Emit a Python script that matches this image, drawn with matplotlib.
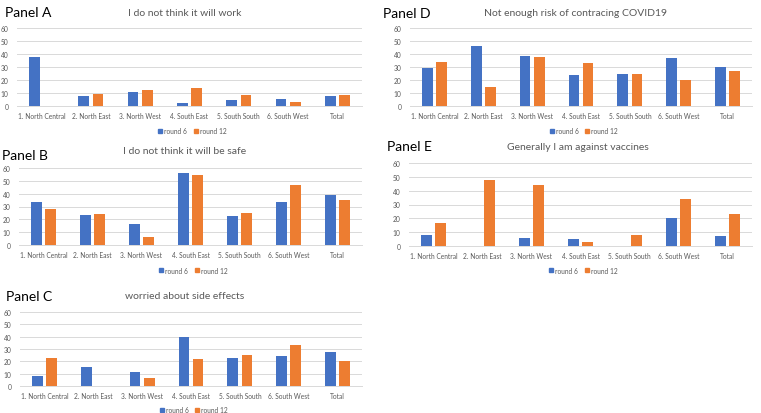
import matplotlib
matplotlib.use("Agg")
import matplotlib.pyplot as plt
import numpy as np
from matplotlib.patches import Patch

plt.rcParams['font.family'] = ['Lato', 'DejaVu Sans']

categories = ["1. North Central", "2. North East", "3. North West", "4. South East",
              "5. South South", "6. South West", "Total"]
series_names = ["round 6", "round 12"]

a_round6 = [37.4, 7.7, 11.0, 2.0, 4.9, 5.6, 7.4]
a_round12 = [0, 9.5, 12.6, 13.6, 8.2, 3.3, 8.2]
b_round6 = [33.5, 23.2, 16.5, 56.2, 22.4, 33.5, 39.2]
b_round12 = [27.8, 24.2, 6.2, 54.4, 25.0, 46.9, 35.0]
c_round6 = [8.2, 15.3, 11.2, 40.0, 22.6, 24.0, 27.5]
c_round12 = [22.3, 0, 6.3, 21.8, 24.8, 33.2, 20.2]
d_round6 = [29.5, 46.0, 38.7, 23.8, 24.9, 37.2, 30.0]
d_round12 = [33.6, 14.9, 37.7, 32.8, 24.9, 20.3, 26.9]
e_round6 = [8.2, 0, 5.6, 5.1, 0, 20.6, 7.5]
e_round12 = [16.7, 47.7, 44.0, 2.7, 8.2, 33.7, 22.8]

yticks = [0, 10, 20, 30, 40, 50, 60]

BLUE = "#4472C4"
ORANGE = "#ED7D31"
GRID = "#D9D9D9"
TXT = "#595959"

W, H = 761, 414
fig = plt.figure(figsize=(W / 100, H / 100), dpi=100)

def px_axes(left, top_y, right, bottom_y):
    return fig.add_axes([left / W, 1 - bottom_y / H, (right - left) / W, (bottom_y - top_y) / H])

panels = [
    # label, title, r6, r12, left, top(60), right, bottom(0), label_xy, title_xy, legend_y
    ("Panel A", "I do not think it will work", a_round6, a_round12, 17, 29, 362, 107, (5, 13), (185, 14), 132),
    ("Panel B", "I do not think it will be safe", b_round6, b_round12, 19, 169, 362, 246, (2, 156), (185, 152), 271),
    ("Panel C", "worried about side effects", c_round6, c_round12, 20, 313, 362, 387, (6, 297), (185, 297), 411),
    ("Panel D", "Not enough risk of contracing COVID19", d_round6, d_round12, 410, 29, 752, 107, (383, 14), (575, 13), 132),
    ("Panel E", "Generally I am against vaccines", e_round6, e_round12, 409, 164, 752, 247, (387, 147), (578, 147), 271),
]

x = np.arange(len(categories))
bw = 0.22
off = 0.145

for label, title, r6, r12, l, t, r, b, lab_xy, tit_xy, leg_y in panels:
    ax = px_axes(l, t, r, b)
    ax.bar(x - off, r6, width=bw, color=BLUE, zorder=3)
    ax.bar(x + off, r12, width=bw, color=ORANGE, zorder=3)
    ax.set_xlim(-0.5, len(categories) - 0.5)
    ax.set_ylim(0, 60)
    ax.set_yticks(yticks)
    ax.set_xticks(x)
    ax.set_xticklabels(categories)
    ax.tick_params(axis='both', length=0, labelsize=4.8, colors=TXT, pad=4)
    ax.tick_params(axis='y', pad=6)
    ax.grid(axis='y', color=GRID, linewidth=0.7, zorder=0)
    for s in ['left', 'right', 'top']:
        ax.spines[s].set_visible(False)
    ax.spines['bottom'].set_color(GRID)
    ax.spines['bottom'].set_linewidth(0.7)
    ax.set_facecolor('none')
    fig.text(lab_xy[0] / W, 1 - lab_xy[1] / H, label, fontsize=10, color='black',
             ha='left', va='center')
    fig.text(tit_xy[0] / W, 1 - tit_xy[1] / H, title, fontsize=7.5, color=TXT,
             ha='center', va='center')
    handles = [Patch(color=BLUE), Patch(color=ORANGE)]
    fig.legend(handles, series_names, loc='center',
               bbox_to_anchor=(((l + r) / 2 + 3) / W, 1 - leg_y / H),
               ncol=2, frameon=False, fontsize=4.8, handlelength=0.6, handleheight=0.6,
               handletextpad=0.3, columnspacing=1.0, labelcolor=TXT, borderpad=0)

fig.savefig("out.png", dpi=100, facecolor='white')
